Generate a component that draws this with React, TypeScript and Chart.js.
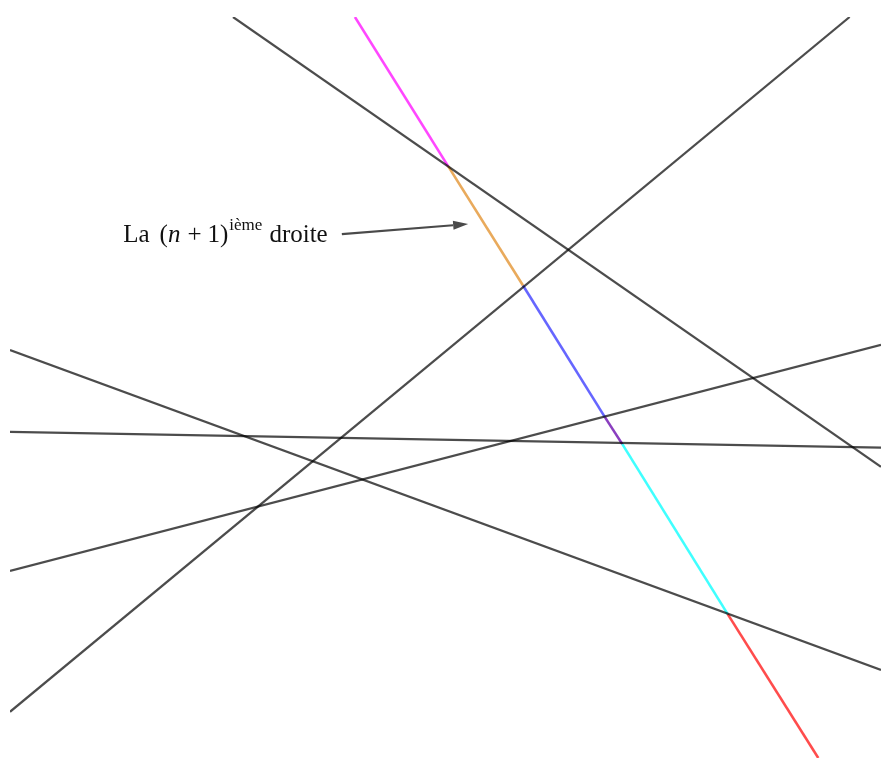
import React, { useEffect, useRef } from "react";
import { Chart, registerables } from "chart.js";

Chart.register(...registerables);

// Black lines (two end points each, data units)
const line1X = [2.56, 10];
const line1Y = [8.5, 3.34];
const line2X = [0, 9.64];
const line2Y = [0.53, 8.5];
const line3X = [0, 10];
const line3Y = [4.68, 1.01];
const line4X = [0, 10];
const line4Y = [3.74, 3.56];
const line5X = [0, 10];
const line5Y = [2.145, 4.74];

// The (n+1)-th line, split at its intersections with the others
const newLineX = [3.96, 5.03, 5.89, 6.83, 7.03, 8.24, 9.28];
const newLineY = [8.5, 6.79, 5.42, 3.91, 3.6, 1.65, 0];
const segmentColors = [
  "rgba(255,0,255,0.72)",
  "#e9aa5c",
  "rgba(0,0,255,0.6)",
  "#8a3fbf",
  "rgba(0,255,255,0.75)",
  "rgba(255,0,0,0.7)",
];

// Annotation
const annotationTextX = 1.3;
const annotationTextY = 5.92;
const arrowFromX = 3.81;
const arrowFromY = 6.01;
const arrowToX = 5.26;
const arrowToY = 6.125;

const X_MIN = 0;
const X_MAX = 10;
const Y_MIN = 0;
const Y_MAX = 8.5;

const toPts = (xs: number[], ys: number[]) => xs.map((x, i) => ({ x, y: ys[i] }));

const annotationPlugin = {
  id: "annotation",
  afterDatasetsDraw(chart: any) {
    const ctx: CanvasRenderingContext2D = chart.ctx;
    const xs = chart.scales.x;
    const ys = chart.scales.y;
    ctx.save();
    // Text
    let x = xs.getPixelForValue(annotationTextX);
    const y = ys.getPixelForValue(annotationTextY);
    ctx.fillStyle = "#111";
    ctx.textBaseline = "alphabetic";
    ctx.textAlign = "left";
    const reg = "25px 'Liberation Serif', serif";
    const ital = "italic 25px 'Liberation Serif', serif";
    const sup = "17px 'Liberation Serif', serif";
    // [text, font, vertical offset, extra gap after]
    const parts: [string, string, number, number][] = [
      ["La", reg, 0, 10],
      ["(", reg, 0, 0],
      ["n", ital, 0, 7],
      ["+", reg, 0, 6],
      ["1)", reg, 0, 1],
      ["ième", sup, -12, 7],
      ["droite", reg, 0, 0],
    ];
    for (const [t, f, dy, gap] of parts) {
      ctx.font = f;
      ctx.fillText(t, x, y + dy);
      x += ctx.measureText(t).width + gap;
    }
    // Arrow
    const x0 = xs.getPixelForValue(arrowFromX);
    const y0 = ys.getPixelForValue(arrowFromY);
    const x1 = xs.getPixelForValue(arrowToX);
    const y1 = ys.getPixelForValue(arrowToY);
    const ang = Math.atan2(y1 - y0, x1 - x0);
    const head = 15;
    const hw = 4.5;
    const bx = x1 - head * Math.cos(ang);
    const by = y1 - head * Math.sin(ang);
    ctx.strokeStyle = "#4a4a4a";
    ctx.fillStyle = "#4a4a4a";
    ctx.lineWidth = 2.2;
    ctx.beginPath();
    ctx.moveTo(x0, y0);
    ctx.lineTo(bx, by);
    ctx.stroke();
    ctx.beginPath();
    ctx.moveTo(x1, y1);
    ctx.lineTo(bx - hw * Math.sin(ang), by + hw * Math.cos(ang));
    ctx.lineTo(bx + hw * Math.sin(ang), by - hw * Math.cos(ang));
    ctx.closePath();
    ctx.fill();
    ctx.restore();
  },
};

export default function App() {
  const ref = useRef<HTMLCanvasElement | null>(null);
  useEffect(() => {
    if (!ref.current) return;
    const black = "rgba(0,0,0,0.7)";
    const blackSet = (xs: number[], ys: number[]) => ({
      data: toPts(xs, ys),
      borderColor: black,
      borderWidth: 2.2,
      pointRadius: 0,
      showLine: true,
      fill: false,
    });
    const chart = new Chart(ref.current, {
      type: "scatter",
      data: {
        datasets: [
          blackSet(line1X, line1Y),
          blackSet(line2X, line2Y),
          blackSet(line3X, line3Y),
          blackSet(line4X, line4Y),
          blackSet(line5X, line5Y),
          {
            data: toPts(newLineX, newLineY),
            borderColor: segmentColors[0],
            borderWidth: 2.6,
            pointRadius: 0,
            showLine: true,
            fill: false,
            segment: {
              borderColor: (c: any) => segmentColors[c.p0DataIndex],
            },
          } as any,
        ],
      },
      options: {
        animation: false,
        responsive: false,
        layout: { padding: { left: 10, top: 17, right: 0, bottom: 0 } },
        plugins: { legend: { display: false }, tooltip: { enabled: false } },
        scales: {
          x: { type: "linear", min: X_MIN, max: X_MAX, display: false },
          y: { type: "linear", min: Y_MIN, max: Y_MAX, display: false },
        },
      },
      plugins: [annotationPlugin],
    });
    return () => chart.destroy();
  }, []);
  return (
    <div style={{ position: "fixed", left: 0, top: 0, width: 881, height: 758, background: "#fff" }}>
      <canvas ref={ref} width={881} height={758} style={{ display: "block" }} />
    </div>
  );
}
